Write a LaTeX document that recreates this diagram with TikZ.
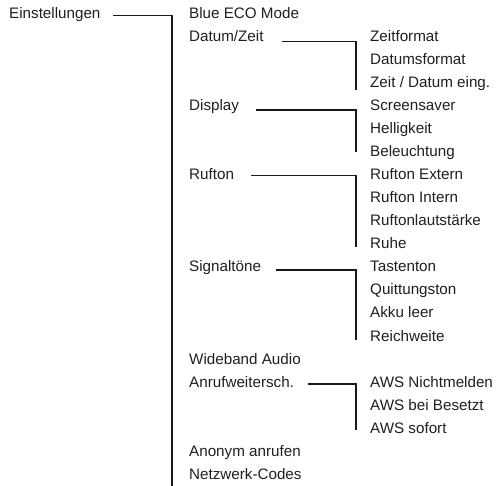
\documentclass[tikz,border=0pt]{standalone}
\usepackage{fontspec}
\setmainfont{Liberation Sans}
\begin{document}
\begin{tikzpicture}[x=1bp,y=-1bp,
  lbl/.style={anchor=base west,inner sep=0pt,font=\fontsize{15.2bp}{18bp}\selectfont,text=black!88},
  conn/.style={draw=black!90,line width=1.1bp}]
\useasboundingbox (0,0) rectangle (497,486);
\def\rowy#1{18.3+23.05*#1}
% column 1
\node[lbl] (einst) at (9,{\rowy{0}}) {Einstellungen};
% column 2
\node[lbl] (blue) at (189,{\rowy{0}}) {Blue ECO Mode};
\node[lbl] (datum) at (189,{\rowy{1}}) {Datum/Zeit};
\node[lbl] (display) at (189,{\rowy{4}}) {Display};
\node[lbl] (rufton) at (189,{\rowy{7}}) {Rufton};
\node[lbl] (signal) at (189,{\rowy{11}}) {Signaltöne};
\node[lbl] (wide) at (189,{\rowy{15}}) {Wideband Audio};
\node[lbl] (anruf) at (189,{\rowy{16}}) {Anrufweitersch.};
\node[lbl] (anonym) at (189,{\rowy{19}}) {Anonym anrufen};
\node[lbl] (netz) at (189,{\rowy{20}}) {Netzwerk-Codes};
% column 3
\node[lbl] (zf) at (370,{\rowy{1}}) {Zeitformat};
\node[lbl] (df) at (370,{\rowy{2}}) {Datumsformat};
\node[lbl] (zd) at (370,{\rowy{3}}) {Zeit / Datum eing.};
\node[lbl] (scr) at (370,{\rowy{4}}) {Screensaver};
\node[lbl] (hell) at (370,{\rowy{5}}) {Helligkeit};
\node[lbl] (bel) at (370,{\rowy{6}}) {Beleuchtung};
\node[lbl] (rext) at (370,{\rowy{7}}) {Rufton Extern};
\node[lbl] (rint) at (370,{\rowy{8}}) {Rufton Intern};
\node[lbl] (rlaut) at (370,{\rowy{9}}) {Ruftonlautstärke};
\node[lbl] (ruhe) at (370,{\rowy{10}}) {Ruhe};
\node[lbl] (tast) at (370,{\rowy{11}}) {Tastenton};
\node[lbl] (quitt) at (370,{\rowy{12}}) {Quittungston};
\node[lbl] (akku) at (370,{\rowy{13}}) {Akku leer};
\node[lbl] (reich) at (370,{\rowy{14}}) {Reichweite};
\node[lbl] (awsn) at (370,{\rowy{16}}) {AWS Nichtmelden};
\node[lbl] (awsb) at (370,{\rowy{17}}) {AWS bei Besetzt};
\node[lbl] (awss) at (370,{\rowy{18}}) {AWS sofort};
% connector coordinates
\coordinate (e0) at (113,15.5); \coordinate (e1) at (172,15.5); \coordinate (e2) at (172,486);
\coordinate (d0) at (282,41.2); \coordinate (d1) at (356,41.2); \coordinate (d2) at (356,90);
\coordinate (p0) at (256,110); \coordinate (p1) at (356,110); \coordinate (p2) at (356,152);
\coordinate (r0) at (251,175.7); \coordinate (r1) at (356,175.7); \coordinate (r2) at (356,247);
\coordinate (s0) at (276,270); \coordinate (s1) at (356,270); \coordinate (s2) at (356,340);
\coordinate (a0) at (308,384); \coordinate (a1) at (356,384); \coordinate (a2) at (356,430);
\draw[conn] (e0) -- (e1) -- (e2);
\draw[conn] (d0) -- (d1) -- (d2);
\draw[conn] (p0) -- (p1) -- (p2);
\draw[conn] (r0) -- (r1) -- (r2);
\draw[conn] (s0) -- (s1) -- (s2);
\draw[conn] (a0) -- (a1) -- (a2);
\end{tikzpicture}
\end{document}
